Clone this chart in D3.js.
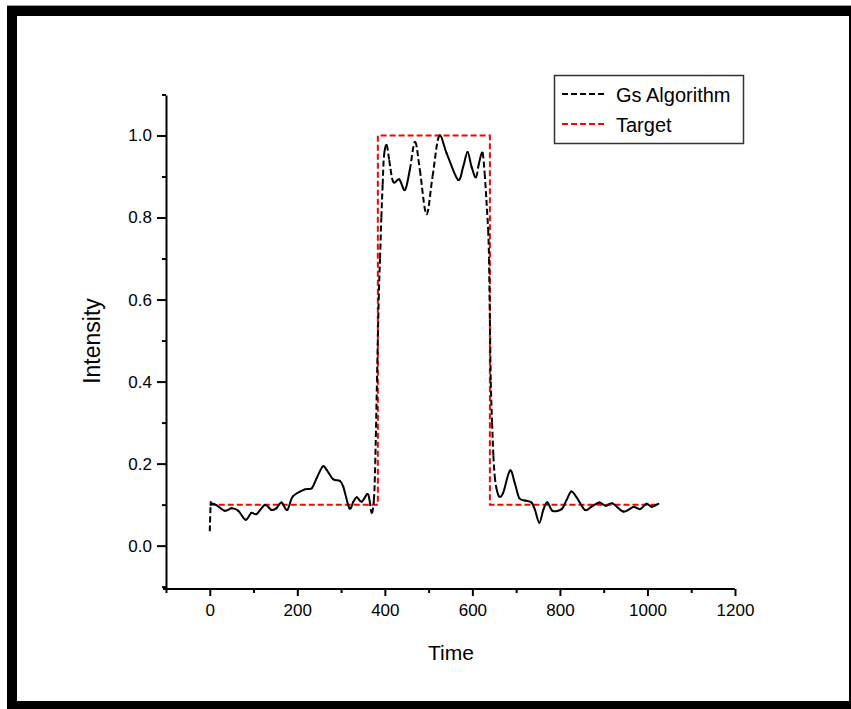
<!DOCTYPE html>
<html>
<head>
<meta charset="utf-8">
<script src="https://cdn.jsdelivr.net/npm/d3@7"></script>
<style>
  html, body { margin: 0; padding: 0; background: #fff; }
  svg { display: block; }
  text { font-family: "Liberation Sans", Arial, sans-serif; fill: #000; }
</style>
</head>
<body>
<svg id="chart" width="851" height="709"></svg>
<script>
// ---------------- data ----------------
const gsX = [0, 2, 4, 15, 34, 50, 65, 82, 95, 107, 126, 141, 152, 164, 177, 190, 217, 233, 244, 258, 267, 282, 297, 305, 319, 328, 336, 347, 360, 365, 370, 375, 378, 382, 386, 389, 392, 395, 398, 404, 410, 419, 433, 446, 457, 469, 480, 495, 509, 524, 541, 567, 579, 589, 598, 608, 615, 623, 628, 632, 636, 638, 640, 642, 645, 648, 651, 655, 661, 670, 686, 697, 707, 720, 735, 743, 753, 762, 771, 783, 804, 815, 826, 838, 857, 872, 890, 905, 920, 945, 968, 983, 998, 1009, 1025];
const gsY = [0.035, 0.100, 0.103, 0.099, 0.085, 0.091, 0.085, 0.063, 0.080, 0.077, 0.099, 0.087, 0.091, 0.105, 0.087, 0.120, 0.137, 0.140, 0.164, 0.193, 0.185, 0.162, 0.158, 0.144, 0.091, 0.107, 0.118, 0.107, 0.126, 0.111, 0.079, 0.111, 0.200, 0.400, 0.600, 0.700, 0.800, 0.880, 0.950, 0.977, 0.940, 0.887, 0.893, 0.867, 0.916, 0.985, 0.916, 0.808, 0.900, 0.999, 0.957, 0.892, 0.924, 0.960, 0.924, 0.898, 0.932, 0.958, 0.908, 0.843, 0.770, 0.700, 0.550, 0.400, 0.300, 0.220, 0.170, 0.140, 0.120, 0.128, 0.183, 0.152, 0.116, 0.110, 0.105, 0.087, 0.056, 0.087, 0.106, 0.085, 0.089, 0.111, 0.132, 0.118, 0.087, 0.095, 0.105, 0.097, 0.103, 0.083, 0.094, 0.089, 0.102, 0.095, 0.102];
const targetX = [0, 384, 384, 640, 640, 1024];
const targetY = [0.1, 0.1, 1.0, 1.0, 0.1, 0.1];
const xMajorTicks = [0, 200, 400, 600, 800, 1000, 1200];
const xMinorTicks = [-100, 100, 300, 500, 700, 900, 1100];
const yMajorTicks = [0.0, 0.2, 0.4, 0.6, 0.8, 1.0];
const yMinorTicks = [-0.1, 0.1, 0.3, 0.5, 0.7, 0.9, 1.1];
const seriesNames = ["Gs Algorithm", "Target"];
const seriesColors = ["#000000", "#ff0000"];
const xTitle = "Time";
const yTitle = "Intensity";

// ---------------- chart ----------------
const svg = d3.select("#chart");

// outer frame
svg.append("rect").attr("x", 7).attr("y", 5).attr("width", 844).attr("height", 1).attr("fill", "#9a9a9a");
svg.append("rect").attr("x", 7).attr("y", 6).attr("width", 844).attr("height", 10).attr("fill", "#000");
svg.append("rect").attr("x", 7).attr("y", 6).attr("width", 10).attr("height", 703).attr("fill", "#000");
svg.append("rect").attr("x", 7).attr("y", 701).attr("width", 844).attr("height", 8).attr("fill", "#000");
svg.append("rect").attr("x", 849).attr("y", 6).attr("width", 2).attr("height", 703).attr("fill", "#000");

const x = d3.scaleLinear().domain([-100, 1200]).range([166, 735]);
const y = d3.scaleLinear().domain([-0.1057, 1.0987]).range([589, 95]);

const axisFont = "17px";

// y axis
const gy = svg.append("g").attr("transform", "translate(166,0)");
gy.call(d3.axisLeft(y).tickValues(yMinorTicks).tickSize(4).tickSizeOuter(0).tickFormat(""));
gy.call(g => g.select(".domain").remove());
const gy2 = svg.append("g").attr("transform", "translate(166,0)");
gy2.call(d3.axisLeft(y).tickValues(yMajorTicks).tickSize(9).tickSizeOuter(0).tickPadding(5).tickFormat(d3.format(".1f")));
[gy, gy2].forEach(g => {
  g.selectAll("line").attr("stroke", "#000").attr("stroke-width", 2);
  g.selectAll("text").style("font-size", axisFont).style("font-family", "Liberation Sans, Arial, sans-serif");
});
gy2.select(".domain").attr("stroke", "#000").attr("stroke-width", 2);

// x axis
const gx = svg.append("g").attr("transform", "translate(0,589)");
gx.call(d3.axisBottom(x).tickValues(xMinorTicks).tickSize(4).tickSizeOuter(0).tickFormat(""));
gx.call(g => g.select(".domain").remove());
const gx2 = svg.append("g").attr("transform", "translate(0,589)");
gx2.call(d3.axisBottom(x).tickValues(xMajorTicks).tickSize(7).tickSizeOuter(0).tickPadding(8).tickFormat(d3.format("d")));
[gx, gx2].forEach(g => {
  g.selectAll("line").attr("stroke", "#000").attr("stroke-width", 2);
  g.selectAll("text").style("font-size", axisFont).style("font-family", "Liberation Sans, Arial, sans-serif");
});
gx2.select(".domain").attr("stroke", "#000").attr("stroke-width", 2).attr("d", "M163,0H735");

// axis titles
svg.append("text").attr("x", 451).attr("y", 660).attr("text-anchor", "middle")
  .style("font-size", "21px").text(xTitle);
svg.append("text").attr("transform", "translate(100,341) rotate(-90)").attr("text-anchor", "middle")
  .style("font-size", "23px").text(yTitle);

// target (red dashed)
const targetData = targetX.map((d, i) => [d, targetY[i]]);
svg.append("path")
  .datum(targetData)
  .attr("d", d3.line().x(d => x(d[0])).y(d => y(d[1])))
  .attr("fill", "none").attr("stroke", seriesColors[1]).attr("stroke-width", 2)
  .attr("stroke-dasharray", "6,3");

// Gs algorithm: each segment drawn on its own (dash pattern restarts per segment),
// steep segments are dashed, flat ones look solid.
const pts = gsX.map((d, i) => [x(d), y(gsY[i])]);
const gGs = svg.append("g");
for (let i = 0; i < pts.length - 1; i++) {
  const p0 = pts[Math.max(0, i - 1)], p1 = pts[i], p2 = pts[i + 1], p3 = pts[Math.min(pts.length - 1, i + 2)];
  const steep = Math.abs(p2[1] - p1[1]) > 4.5 * Math.abs(p2[0] - p1[0]);
  const c1 = [p1[0] + (p2[0] - p0[0]) / 6, p1[1] + (p2[1] - p0[1]) / 6];
  const c2 = [p2[0] - (p3[0] - p1[0]) / 6, p2[1] - (p3[1] - p1[1]) / 6];
  const path = d3.path();
  path.moveTo(p1[0], p1[1]);
  path.bezierCurveTo(c1[0], c1[1], c2[0], c2[1], p2[0], p2[1]);
  gGs.append("path").attr("d", path.toString())
    .attr("fill", "none").attr("stroke", seriesColors[0]).attr("stroke-width", 2)
    .attr("stroke-linecap", steep ? "butt" : "round")
    .attr("stroke-dasharray", steep ? "6,3" : null);
}

// legend
const lg = svg.append("g");
lg.append("rect").attr("x", 554.5).attr("y", 75.5).attr("width", 189).attr("height", 68)
  .attr("fill", "#fff").attr("stroke", "#333").attr("stroke-width", 1.5);
seriesNames.forEach((name, i) => {
  const yy = 94 + i * 30;
  lg.append("line").attr("x1", 562).attr("x2", 605).attr("y1", yy).attr("y2", yy)
    .attr("stroke", seriesColors[i]).attr("stroke-width", 2).attr("stroke-dasharray", "6,3");
  lg.append("text").attr("x", 616).attr("y", yy + 7.5).style("font-size", "20px").text(name);
});
</script>
</body>
</html>
